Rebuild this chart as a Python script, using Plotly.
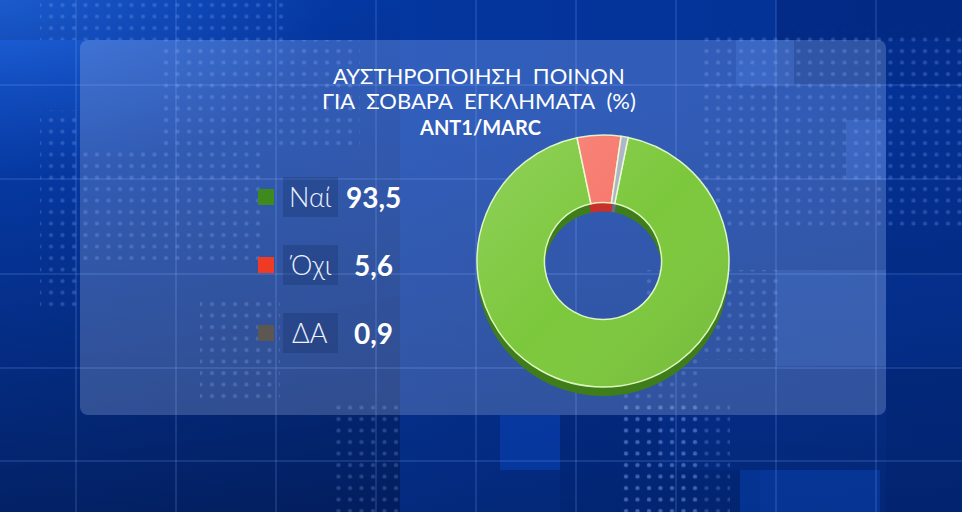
import base64
import plotly.graph_objects as go

# ---------------- data ----------------
title_lines = ["ΑΥΣΤΗΡΟΠΟΙΗΣΗ  ΠΟΙΝΩΝ", "ΓΙΑ  ΣΟΒΑΡΑ  ΕΓΚΛΗΜΑΤΑ  (%)"]
source = "ANT1/MARC"
categories = ["Ναί", "Όχι", "ΔΑ"]
values = [93.5, 5.6, 0.9]
value_labels = ["93,5", "5,6", "0,9"]

# ---------------- styling ----------------
W, H = 962, 512
face_colors = ["#7cc83c", "#f7766a", "#a9b1c6"]
wall_colors = ["#3f7d1a", "#c8302a", "#6a6f80"]
legend_colors = ["#3f8a1c", "#f03b24", "#5d5752"]

grid_x = [76 + 100 * k for k in range(10)]
grid_y = [85, 179, 274, 368, 461]
svg = [f'<svg xmlns="http://www.w3.org/2000/svg" width="{W}" height="{H}" viewBox="0 0 {W} {H}">',
       '<defs>',
       '<linearGradient id="base" x1="0" y1="0" x2="1" y2="0">'
       '<stop offset="0" stop-color="#0744c0"/><stop offset="0.5" stop-color="#053aa8"/>'
       '<stop offset="1" stop-color="#05369e"/></linearGradient>',
       '<linearGradient id="dark" x1="0" y1="0" x2="0" y2="1">'
       '<stop offset="0" stop-color="#000a2a" stop-opacity="0"/>'
       '<stop offset="0.5" stop-color="#000a2a" stop-opacity="0.3"/>'
       '<stop offset="1" stop-color="#000a2a" stop-opacity="0.6"/></linearGradient>',
       '<radialGradient id="glow" cx="0" cy="0" r="0.35">'
       '<stop offset="0" stop-color="#3a86ff" stop-opacity="0.5"/>'
       '<stop offset="1" stop-color="#3a86ff" stop-opacity="0"/></radialGradient>',
       '<pattern id="dots" x="0" y="0" width="11.5" height="11.5" patternUnits="userSpaceOnUse">'
       '<rect x="3" y="3" width="4" height="4" rx="1.5" fill="#8fb0ff" fill-opacity="0.25"/></pattern>',
       '</defs>',
       f'<rect x="0" y="0" width="{W}" height="{H}" fill="url(#base)"/>',
       f'<rect x="0" y="0" width="{W}" height="{H}" fill="url(#glow)"/>',
       '<rect x="0" y="0" width="400" height="512" fill="url(#dark)"/>',
       '<rect x="400" y="100" width="562" height="412" fill="url(#dark)" opacity="0.6"/>',
       '<rect x="0" y="0" width="962" height="40" fill="#001a60" opacity="0.15"/>',
       '<rect x="776" y="0" width="186" height="85" fill="#001a60" opacity="0.3"/>',
       '<rect x="886" y="85" width="76" height="190" fill="#001a60" opacity="0.15"/>',
       '<rect x="886" y="366" width="76" height="146" fill="#001a60" opacity="0.25"/>',
       '<rect x="500" y="415" width="60" height="55" fill="#0a48c0" opacity="0.45"/>',
       '<rect x="560" y="470" width="200" height="42" fill="#001a60" opacity="0.25"/>',
       '<rect x="560" y="415" width="100" height="55" fill="#001a60" opacity="0.2"/>',
       '<rect x="740" y="470" width="140" height="42" fill="#0a48c0" opacity="0.4"/>',
       '<rect x="736" y="40" width="58" height="45" fill="#2a64d8" opacity="0.35"/>',
       '<rect x="846" y="120" width="40" height="60" fill="#2a64d8" opacity="0.35"/>',
       '<rect x="776" y="270" width="110" height="96" fill="#3c78e0" opacity="0.2"/>',
       '<rect x="40" y="0" width="250" height="40" fill="url(#dots)"/>',
       '<rect x="40" y="110" width="40" height="200" fill="url(#dots)"/>',
       '<rect x="80" y="150" width="180" height="110" fill="url(#dots)"/>',
       '<rect x="160" y="40" width="200" height="110" fill="url(#dots)"/>',
       '<rect x="200" y="300" width="80" height="100" fill="url(#dots)"/>',
       '<rect x="700" y="30" width="262" height="200" fill="url(#dots)"/>',
       '<rect x="640" y="270" width="140" height="90" fill="url(#dots)"/>',
       '<rect x="620" y="360" width="80" height="152" fill="url(#dots)"/>',
       '<rect x="330" y="400" width="70" height="112" fill="url(#dots)"/>',
       '<rect x="620" y="400" width="110" height="112" fill="url(#dots)"/>',
       ]
for gx in grid_x:
    svg.append(f'<line x1="{gx}" y1="0" x2="{gx}" y2="{H}" stroke="#7aa6ff" stroke-opacity="0.35" stroke-width="1"/>')
for gy in grid_y:
    svg.append(f'<line x1="0" y1="{gy}" x2="{W}" y2="{gy}" stroke="#7aa6ff" stroke-opacity="0.35" stroke-width="1"/>')
svg.append('<rect x="80" y="40" width="806" height="375" rx="8" ry="8" fill="#c0d0f5" fill-opacity="0.24"/>')
svg.append('</svg>')
svg_uri = "data:image/svg+xml;base64," + base64.b64encode("".join(svg).encode("utf-8")).decode("ascii")

fig = go.Figure()

cx, cy, r, depth = 603, 261, 126, 9
HOLE = 0.465


def dom(cxp, cyp):
    return dict(x=[(cxp - r) / W, (cxp + r) / W], y=[1 - (cyp + r) / H, 1 - (cyp - r) / H])


common = dict(labels=categories, values=values, hole=HOLE, sort=False,
              direction="clockwise", rotation=11.5, textinfo="none",
              hoverinfo="label+value", showlegend=False)

fig.add_trace(go.Pie(domain=dom(cx, cy + depth),
                     marker=dict(colors=wall_colors, line=dict(color="#2e5e12", width=0)),
                     **common))
fig.add_trace(go.Pie(domain=dom(cx, cy),
                     marker=dict(colors=face_colors, line=dict(color="rgba(235,255,210,0.9)", width=1.5)),
                     **common))

# soft lighting overlay on the top face of the donut (decoration)
ov_r = r
ov_ri = r * HOLE
ov = (f'<svg xmlns="http://www.w3.org/2000/svg" width="{2*ov_r}" height="{2*ov_r}" viewBox="0 0 {2*ov_r} {2*ov_r}">'
      '<defs><linearGradient id="lg" x1="0" y1="0" x2="1" y2="1">'
      '<stop offset="0" stop-color="#ffffff" stop-opacity="0.16"/>'
      '<stop offset="0.5" stop-color="#ffffff" stop-opacity="0.0"/>'
      '<stop offset="1" stop-color="#0a2a00" stop-opacity="0.12"/></linearGradient></defs>'
      f'<path fill-rule="evenodd" fill="url(#lg)" d="M 1 {ov_r} a {ov_r-1} {ov_r-1} 0 1 0 {2*ov_r-2} 0 a {ov_r-1} {ov_r-1} 0 1 0 {-(2*ov_r-2)} 0 Z '
      f'M {ov_r-ov_ri-1} {ov_r} a {ov_ri+1} {ov_ri+1} 0 1 0 {2*ov_ri+2} 0 a {ov_ri+1} {ov_ri+1} 0 1 0 {-(2*ov_ri+2)} 0 Z"/>'
      '</svg>')
ov_uri = "data:image/svg+xml;base64," + base64.b64encode(ov.encode("utf-8")).decode("ascii")

annotations = []
shapes = []
ty = [75, 100]
for line, y in zip(title_lines, ty):
    annotations.append(dict(text=line, x=479 / W, y=1 - y / H, xref="paper", yref="paper",
                            showarrow=False, xanchor="center", yanchor="middle",
                            font=dict(family="Lato, Open Sans, sans-serif", size=22, color="white")))
annotations.append(dict(text=f"<b>{source}</b>", x=480 / W, y=1 - 127 / H, xref="paper", yref="paper",
                        showarrow=False, xanchor="center", yanchor="middle",
                        font=dict(family="Lato, Open Sans, sans-serif", size=20, color="white")))

row_y = [197, 265, 333]
for cat, lab, col, y in zip(categories, value_labels, legend_colors, row_y):
    shapes.append(dict(type="rect", xref="paper", yref="paper",
                       x0=283 / W, x1=338 / W, y0=1 - (y + 20) / H, y1=1 - (y - 20) / H,
                       fillcolor="rgba(20,45,100,0.30)", line=dict(width=0), layer="below"))
    shapes.append(dict(type="rect", xref="paper", yref="paper",
                       x0=258 / W, x1=274 / W, y0=1 - (y + 8) / H, y1=1 - (y - 8) / H,
                       fillcolor=col, line=dict(width=0)))
    annotations.append(dict(text=cat, x=310 / W, y=1 - (y - 1) / H, xref="paper", yref="paper",
                            showarrow=False, xanchor="center", yanchor="middle",
                            font=dict(family="Lato, Open Sans, sans-serif", size=27, color="#eef3ff", weight=300)))
    annotations.append(dict(text=f"<b>{lab}</b>", x=373 / W, y=1 - y / H, xref="paper", yref="paper",
                            showarrow=False, xanchor="center", yanchor="middle",
                            font=dict(family="Lato, Open Sans, sans-serif", size=28, color="white")))

fig.update_layout(
    width=W, height=H,
    margin=dict(l=0, r=0, t=0, b=0),
    paper_bgcolor="#0a3aa8", plot_bgcolor="rgba(0,0,0,0)",
    xaxis=dict(visible=False), yaxis=dict(visible=False),
    images=[dict(source=svg_uri, xref="paper", yref="paper", x=0, y=1, sizex=1, sizey=1,
                 xanchor="left", yanchor="top", sizing="stretch", layer="below"),
            dict(source=ov_uri, xref="paper", yref="paper", x=(cx - r) / W, y=1 - (cy - r) / H,
                 sizex=2 * r / W, sizey=2 * r / H, xanchor="left", yanchor="top",
                 sizing="stretch", layer="above")],
    shapes=shapes, annotations=annotations,
)

fig.write_html("out.html", config={"displayModeBar": False},
               post_script="document.body.style.margin='0';document.body.style.overflow='hidden';")
